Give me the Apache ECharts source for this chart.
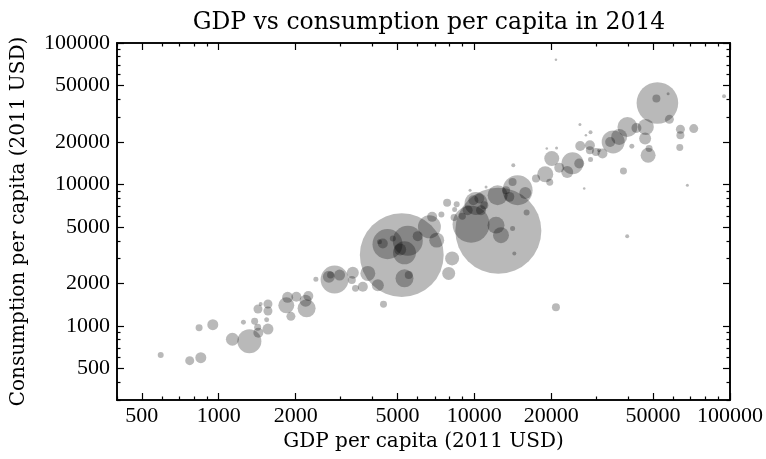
<!DOCTYPE html>
<html>
<head>
<meta charset="utf-8">
<script src="https://cdn.jsdelivr.net/npm/echarts@6/dist/echarts.min.js"></script>
<style>
html,body{margin:0;padding:0;background:#fff;}
#chart{width:766px;height:459px;}
</style>
</head>
<body>
<div id="chart"></div>
<script>
// GDP per capita (2011 USD)
const gdp = [
  593, 770, 851, 838, 948, 1131, 1318, 1249, 1382, 1429, 1420, 1558, 1540, 1424, 1558, 1558, 1459, 1838, 1916, 1860,
  2012, 2207, 2187, 2241, 2399, 2839, 2697, 2970, 2738,
  5200, 3346, 3316, 3428, 3662, 3830, 4192, 4411, 4573, 4384, 4255, 5490, 5330, 5127, 4797, 5330, 5538, 6004, 6671, 7124,
  6836, 8183, 7936, 7824, 7431, 8529, 8330, 8977, 8375,
  12410, 9707, 12150, 12710, 10150, 10460, 9415, 10620, 12330, 14760, 13700, 15820, 14110, 13300, 16010, 14110, 14330, 11110, 9620, 14200,
  17420, 18940, 19720, 20080, 24210, 21480, 25720, 23080, 25950, 28310, 28310, 29890, 20970, 19200, 28470, 26900,
  52000, 51530, 57270, 94750, 57940, 63970, 63970, 72140, 63610, 47830, 48260, 46560, 46850, 43050, 39710, 41300, 38300, 34910, 33980, 36850,
  31710, 30780, 28470, 25880, 27310, 68110, 20850, 20850, 39610, 9911, 10940
];
// Consumption per capita (2011 USD)
const consumption = [
  624, 569, 597, 973, 1021, 806, 780, 1062, 1079, 897, 979, 952, 1108, 1318, 1276, 1430, 1430, 1400, 1171, 1594,
  1610, 1333, 1508, 1628, 2136, 2129, 2228, 2291, 2291,
  3170, 2377, 2112, 1845, 1894, 2354, 1938, 1423, 3790, 3834, 3935, 4000, 3290, 3477, 4158, 2171, 2291, 4316, 5022, 4045,
  5906, 3004, 2354, 7418, 6142, 7261, 5850, 5975, 6663,
  4705, 5246, 5162, 4387, 7343, 7963, 6587, 6587, 8405, 9117, 8177, 8725, 10430, 9117, 6345, 4892, 3260, 9618, 9117, 13690,
  11020, 11820, 10380, 15260, 14140, 13140, 14070, 12270, 18730, 18950, 17460, 16990, 18130, 17950, 15010, 9370,
  37650, 40460, 43870, 42000, 28890, 24560, 22280, 24850, 18240, 16100, 17950, 21120, 25500, 25080, 25500, 18640, 12470, 19980, 19980, 21680,
  16550, 17460, 23390, 26510, 22280, 9890, 76220, 1355, 4316, 7747, 7143
];
// Population (millions)
const population = [
  6.6, 14.9, 22.3, 9, 22.3, 31, 106, 4.6, 9, 18.4, 9, 22.3, 4.6, 14.9, 14.9, 14.9, 2.95, 47, 14.9, 22.3,
  18.4, 59.7, 26.5, 18.4, 4.6, 144, 26.5, 22.3, 9,
  1295, 26.5, 11.8, 9, 18.4, 41.4, 26.5, 9, 166, 18.4, 4.6, 166, 97, 26.5, 6.6, 59.7, 11.8, 18.4, 97, 41.4,
  18.4, 36, 31, 11.8, 6.6, 6.6, 9, 9, 4.6,
  1364, 252, 53, 47, 97, 18.4, 18.4, 18.4, 73.7, 166, 18.4, 26.5, 11.8, 11.8, 6.6, 4.6, 2.95, 1.66, 1.66, 2.95,
  11.8, 47, 9, 41.4, 89, 18.4, 18.4, 26.5, 18.4, 18.4, 11.8, 11.8, 1.66, 1.2, 4.6, 1.2,
  319, 11.8, 1.66, 2.95, 14.9, 14.9, 11.8, 14.9, 9, 41.4, 9, 26.5, 47, 18.4, 73.7, 4.6, 9, 97, 18.4, 47,
  18.4, 2.95, 2.95, 1.66, 1.2, 1.66, 1.2, 11.8, 2.95, 18.4, 11.8
];
const majorTicks = [500, 1000, 2000, 5000, 10000, 20000, 50000, 100000];
const xMinorTicks = [400, 600, 700, 800, 900, 3000, 4000, 6000, 7000, 8000, 9000, 30000, 40000, 60000, 70000, 80000, 90000];
const yMinorTicks = [300, 400, 600, 700, 800, 900, 3000, 4000, 6000, 7000, 8000, 9000, 30000, 40000, 60000, 70000, 80000, 90000];
const xRange = [400, 100000];
const yRange = [300, 100000];

const L = Math.log10;
const TICKFONT = 'Liberation Serif';
const TEXTFONT = 'DejaVu Serif';
const data = gdp.map((g, i) => [L(g), L(consumption[i]), population[i]]);

function axis(kind, pos, ticks, len, labels, name) {
  const range = kind === 'x' ? xRange : yRange;
  const a = {
    type: 'value', position: pos, min: L(range[0]), max: L(range[1]),
    splitLine: {show: false},
    axisLine: {show: true, onZero: false, lineStyle: {color: '#000', width: 1.6}},
    axisTick: {show: true, inside: true, length: len, customValues: ticks.map(L), lineStyle: {color: '#000', width: 1.2}},
    axisLabel: {show: !!labels, customValues: labels ? labels.map(L) : undefined,
      formatter: v => String(Math.round(Math.pow(10, v))),
      color: '#000', fontFamily: TICKFONT, fontSize: 22, margin: kind === 'x' ? 5 : 7},
    silent: true
  };
  if (name) {
    a.name = name; a.nameLocation = 'middle';
    a.nameTextStyle = {color: '#000', fontFamily: TEXTFONT, fontSize: 20};
    a.nameGap = kind === 'x' ? 31 : 88;
  }
  return a;
}

const chart = echarts.init(document.getElementById('chart'), null, {renderer: 'canvas'});
chart.setOption({
  animation: false,
  backgroundColor: '#fff',
  title: {text: 'GDP vs consumption per capita in 2014', left: 424, textAlign: 'center', top: 6,
    textStyle: {color: '#000', fontFamily: TEXTFONT, fontSize: 23.5, fontWeight: 'normal'}},
  grid: {left: 117, right: 35, top: 43, bottom: 59, containLabel: false},
  xAxis: [
    axis('x', 'bottom', majorTicks, 7, majorTicks, 'GDP per capita (2011 USD)'),
    axis('x', 'bottom', xMinorTicks, 3.5, null),
    axis('x', 'top', majorTicks, 7, null),
    axis('x', 'top', xMinorTicks, 3.5, null)
  ],
  yAxis: [
    axis('y', 'left', majorTicks, 7, majorTicks, 'Consumption per capita (2011 USD)'),
    axis('y', 'left', yMinorTicks, 3.5, null),
    axis('y', 'right', majorTicks, 7, null),
    axis('y', 'right', yMinorTicks, 3.5, null)
  ],
  series: [{
    type: 'scatter', xAxisIndex: 0, yAxisIndex: 0,
    data: data,
    symbolSize: v => 2.33 * Math.sqrt(v[2]),
    itemStyle: {color: 'rgba(0,0,0,0.34)', borderWidth: 0},
    emphasis: {disabled: true},
    clip: true
  }]
});
</script>
</body>
</html>
